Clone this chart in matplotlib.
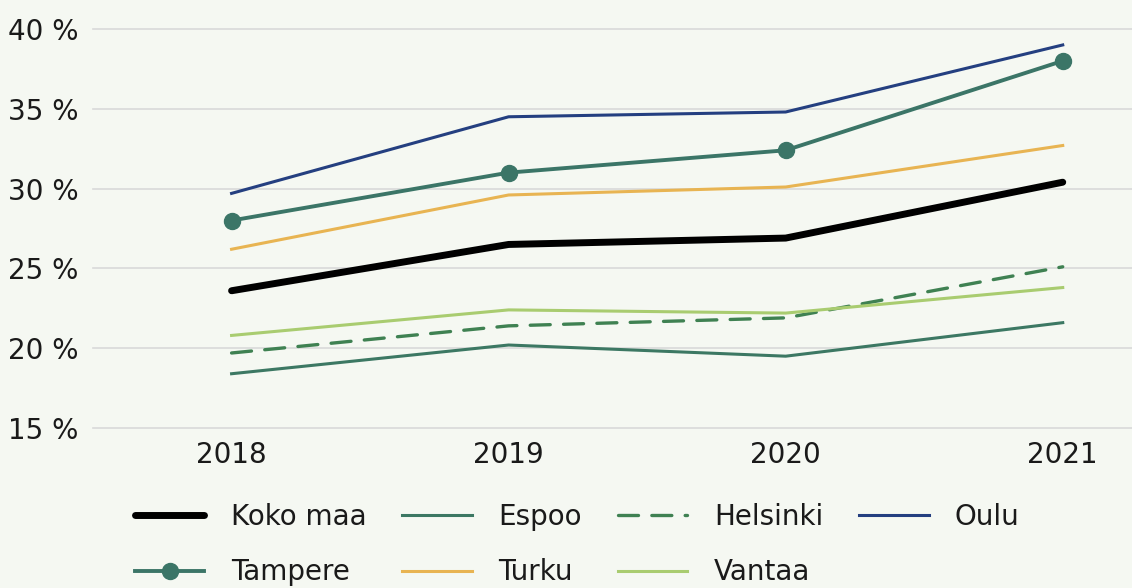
import matplotlib.pyplot as plt

# data
years = ['2018', '2019', '2020', '2021']
koko_maa = [23.6, 26.5, 26.9, 30.4]
espoo = [18.4, 20.2, 19.5, 21.6]
helsinki = [19.7, 21.4, 21.9, 25.1]
oulu = [29.7, 34.5, 34.8, 39.0]
tampere = [28.0, 31.0, 32.4, 38.0]
turku = [26.2, 29.6, 30.1, 32.7]
vantaa = [20.8, 22.4, 22.2, 23.8]
yticks = [15, 20, 25, 30, 35, 40]

bg = '#f5f8f2'
plt.rcParams['font.family'] = ['DejaVu Sans']
plt.rcParams['text.color'] = '#1a1a1a'

fig = plt.figure(figsize=(11.32, 5.88), dpi=100, facecolor=bg)
ax = fig.add_axes([0.0822, 0.2721, 0.9178, 0.6786], facecolor=bg)

x = range(len(years))
series = [
    ('Koko maa', koko_maa, dict(color='black', lw=5.0, solid_capstyle='round')),
    ('Espoo', espoo, dict(color='#3c7863', lw=2.2)),
    ('Helsinki', helsinki, dict(color='#3f8152', lw=2.4, ls=(0, (6, 4)), dash_capstyle='round')),
    ('Oulu', oulu, dict(color='#243f80', lw=2.2)),
    ('Tampere', tampere, dict(color='#3b7567', lw=2.8, marker='o', ms=11.5)),
    ('Turku', turku, dict(color='#e8b452', lw=2.2)),
    ('Vantaa', vantaa, dict(color='#a9cc70', lw=2.2)),
]
handles = {}
for name, vals, st in series:
    ln, = ax.plot(x, vals, label=name, zorder=3, **st)
    handles[name] = ln

ax.set_xlim(-0.5, 3.25)
ax.set_ylim(15, 40)
ax.set_yticks(yticks)
ax.set_yticklabels([f'{t} %' for t in yticks])
ax.set_xticks(list(x))
ax.set_xticklabels(years)
ax.grid(axis='y', color='#d9d9d9', lw=1.2, clip_on=False)
ax.set_axisbelow(True)
for s in ax.spines.values():
    s.set_visible(False)
ax.tick_params(axis='both', length=0, labelsize=20, colors='#1a1a1a')
ax.tick_params(axis='x', pad=9)
ax.tick_params(axis='y', pad=61)
for lbl in ax.get_yticklabels():
    lbl.set_horizontalalignment('left')

# legend, row-wise order
order = ['Koko maa', 'Tampere', 'Espoo', 'Turku', 'Helsinki', 'Vantaa', 'Oulu']
fig.legend([handles[n] for n in order], order, ncol=4, loc='center',
           bbox_to_anchor=(0.51, 0.074), frameon=False, fontsize=20,
           handlelength=2.5, handletextpad=0.95, columnspacing=1.3,
           labelspacing=1.0)

fig.savefig('out.png', dpi=100, facecolor=bg)
